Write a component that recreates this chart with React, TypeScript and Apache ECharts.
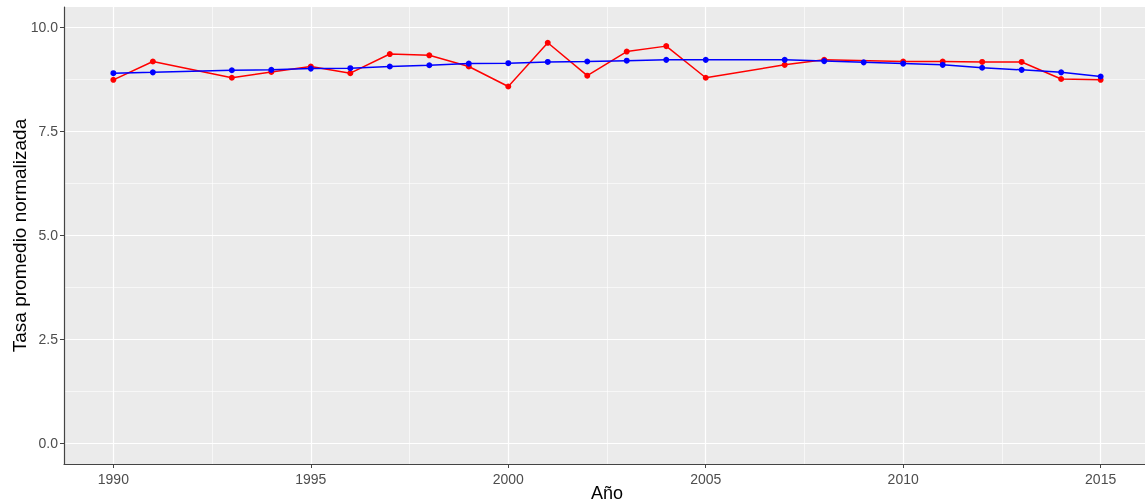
import React, { useEffect, useRef } from "react";
import * as echarts from "echarts";

const redYears = [1990, 1991, 1993, 1994, 1995, 1996, 1997, 1998, 1999, 2000, 2001, 2002, 2003, 2004, 2005, 2007, 2008, 2010, 2011, 2012, 2013, 2014, 2015];
const redValues = [8.73, 9.17, 8.78, 8.92, 9.05, 8.89, 9.35, 9.32, 9.05, 8.57, 9.62, 8.83, 9.41, 9.54, 8.78, 9.09, 9.21, 9.17, 9.17, 9.16, 9.16, 8.75, 8.73];
const blueYears = [1990, 1991, 1993, 1994, 1995, 1996, 1997, 1998, 1999, 2000, 2001, 2002, 2003, 2004, 2005, 2007, 2008, 2009, 2010, 2011, 2012, 2013, 2014, 2015];
const blueValues = [8.89, 8.91, 8.96, 8.97, 9.0, 9.01, 9.05, 9.08, 9.12, 9.13, 9.16, 9.17, 9.19, 9.21, 9.21, 9.21, 9.18, 9.15, 9.12, 9.09, 9.02, 8.97, 8.91, 8.81];
const xTicks = [1990, 1995, 2000, 2005, 2010, 2015];
const xMinor = [1992.5, 1997.5, 2002.5, 2007.5, 2012.5];
const yTicks = [0, 2.5, 5, 7.5, 10];
const yMinor = [1.25, 3.75, 6.25, 8.75];

export default function App() {
  const ref = useRef<HTMLDivElement>(null);
  useEffect(() => {
    const chart = echarts.init(ref.current!, null, { renderer: "svg" });
    const gridLines: any[] = [];
    xMinor.forEach((v) => gridLines.push({ xAxis: v, lineStyle: { width: 0.6 } }));
    yMinor.forEach((v) => gridLines.push({ yAxis: v, lineStyle: { width: 0.6 } }));
    xTicks.forEach((v) => gridLines.push({ xAxis: v, lineStyle: { width: 1.2 } }));
    yTicks.forEach((v) => gridLines.push({ yAxis: v, lineStyle: { width: 1.2 } }));
    chart.setOption({
      animation: false,
      grid: {
        left: 64,
        top: 7,
        width: 1086,
        height: 457,
        show: true,
        backgroundColor: "#EBEBEB",
        borderWidth: 0,
        containLabel: false,
        outerBoundsMode: "none",
      },
      xAxis: {
        type: "value",
        min: 1988.75,
        max: 2016.25,
        name: "Año",
        nameLocation: "middle",
        nameGap: 20,
        nameMoveOverlap: false,
        nameTextStyle: { color: "#000", fontSize: 18, fontFamily: "Liberation Sans" },
        axisLine: { show: true, onZero: false, lineStyle: { color: "#444", width: 1.2 } },
        axisTick: { show: true, length: 4, lineStyle: { color: "#444" }, customValues: xTicks },
        axisLabel: { color: "#4D4D4D", fontSize: 14, fontFamily: "Liberation Sans", margin: 8, customValues: xTicks, formatter: (v: number) => String(v) },
        splitLine: { show: false },
      },
      yAxis: {
        type: "value",
        min: -0.5,
        max: 10.48,
        name: "Tasa promedio normalizada",
        nameLocation: "middle",
        nameGap: 35,
        nameMoveOverlap: false,
        nameTextStyle: { color: "#000", fontSize: 19, fontFamily: "Liberation Sans" },
        axisLine: { show: true, onZero: false, lineStyle: { color: "#444", width: 1.2 } },
        axisTick: { show: true, length: 4, lineStyle: { color: "#444" }, customValues: yTicks },
        axisLabel: { color: "#4D4D4D", fontSize: 14, fontFamily: "Liberation Sans", margin: 6, customValues: yTicks, formatter: (v: number) => v.toFixed(1) },
        splitLine: { show: false },
      },
      series: [
        {
          type: "line",
          data: [],
          silent: true,
          z: 0,
          markLine: {
            silent: true,
            symbol: "none",
            z: 0,
            label: { show: false },
            lineStyle: { color: "#FFFFFF", type: "solid" },
            data: gridLines,
          },
        },
        {
          type: "line",
          z: 5,
          data: redYears.map((y, i) => [y, redValues[i]]),
          symbol: "circle",
          symbolSize: 6,
          lineStyle: { color: "#FF0000", width: 1.5 },
          itemStyle: { color: "#FF0000" },
        },
        {
          type: "line",
          z: 6,
          data: blueYears.map((y, i) => [y, blueValues[i]]),
          symbol: "circle",
          symbolSize: 6,
          lineStyle: { color: "#0000FF", width: 1.5 },
          itemStyle: { color: "#0000FF" },
        },
      ],
    });
    return () => chart.dispose();
  }, []);
  return <div ref={ref} style={{ position: "fixed", left: 0, top: 0, width: 1145, height: 503 }} />;
}
